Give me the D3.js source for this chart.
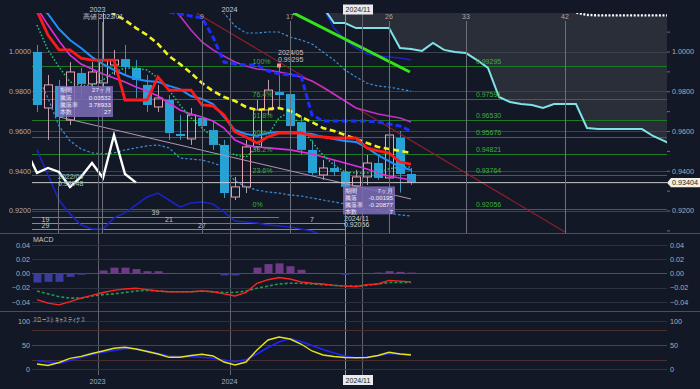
<!DOCTYPE html>
<html>
<head>
<meta charset="utf-8">
<script src="https://cdn.jsdelivr.net/npm/d3@7"></script>
<style>
  html, body { margin: 0; padding: 0; background: #131826; }
  svg { display: block; }
  text { font-family: "Liberation Sans", Arial, sans-serif; }
</style>
</head>
<body>
<div id="chart"></div>
<script>
// ---- monthly candles 2022/07 .. 2025/05 (index 0 .. 34) ----
var candleOpen  = [0.9998, 0.9716, 0.9827, 0.9655, 0.9892, 0.9837, 0.9842, 0.9932, 0.9962, 0.9917,
                   0.9832, 0.9721, 0.9756, 0.9585, 0.9560, 0.9666, 0.9605, 0.9530, 0.9268, 0.9319,
                   0.9520, 0.9706, 0.9796, 0.9786, 0.9645, 0.9505, 0.9379, 0.9414, 0.9394, 0.9324,
                   0.9369, 0.9439, 0.9364, 0.9565, 0.9384];
var candleHigh  = [1.0033, 0.9882, 0.9857, 0.9947, 0.9917, 0.9947, 1.0250, 1.0008, 1.0033, 0.9957,
                   0.9882, 0.9832, 0.9781, 0.9681, 0.9716, 0.9716, 0.9645, 0.9555, 0.9369, 0.9555,
                   0.9756, 0.9857, 0.99295, 0.9857, 0.9676, 0.9555, 0.9455, 0.9455, 0.9434, 0.9404,
                   0.9480, 0.9480, 0.9611, 0.9600, 0.9414];
var candleLow   = [0.9696, 0.9555, 0.9325, 0.9630, 0.9766, 0.9806, 0.9817, 0.9882, 0.9882, 0.9766,
                   0.9696, 0.9696, 0.9555, 0.9555, 0.9530, 0.9605, 0.9505, 0.9263, 0.9253, 0.9288,
                   0.9505, 0.9681, 0.9716, 0.9605, 0.9480, 0.9379, 0.9354, 0.9374, 0.92056, 0.9294,
                   0.9329, 0.9354, 0.9339, 0.9290, 0.9329];
var candleClose = [0.9731, 0.9832, 0.9671, 0.9897, 0.9837, 0.9897, 0.9957, 0.9957, 0.9922, 0.9857,
                   0.9731, 0.9766, 0.9590, 0.9575, 0.9681, 0.9625, 0.9530, 0.9288, 0.9319, 0.9520,
                   0.9706, 0.9806, 0.9781, 0.9625, 0.9505, 0.9389, 0.9414, 0.9394, 0.9319, 0.9369,
                   0.9439, 0.9364, 0.9580, 0.9384, 0.93404];
var lastPrice = 0.93404;

// ---- overlay lines (null = not shown) ----
var tenkan = [1.0204, 1.0083, 1.0008, 1.0008, 0.9967, 0.9957, 0.9957, 0.9957, 0.9756, 0.9756,
              0.9756, 0.9872, 0.9806, 0.9806, 0.9806, 0.9731, 0.9726, 0.9681, 0.9595, 0.9570,
              0.9540, 0.9570, 0.9590, 0.9590, 0.9590, 0.9575, 0.9570, 0.9565, 0.9565, 0.9565,
              0.9515, 0.9500, 0.9490, 0.9444, 0.9434];
var maFast = [1.0234, 1.0189, 1.0113, 1.0058, 1.0018, 0.9972, 0.9937, 0.9907, 0.9882, 0.9862,
              0.9852, 0.9847, 0.9827, 0.9811, 0.9776, 0.9761, 0.9736, 0.9671, 0.9605, 0.9585,
              0.9575, 0.9590, 0.9595, 0.9595, 0.9590, 0.9585, 0.9570, 0.9560, 0.9550, 0.9545,
              0.9515, 0.9479, 0.9449, 0.9419, 0.9404];
var maMid = [1.0219, 1.0133, 1.0053, 0.9982, 0.9937, 0.9912, 0.9887, 0.9867, 0.9847, 0.9821,
             0.9801, 0.9776, 0.9741, 0.9706, 0.9686, 0.9671, 0.9650, 0.9615, 0.9555, 0.9530,
             0.9520, 0.9515, 0.9510, 0.9505, 0.9495, 0.9484, 0.9469, 0.9454, 0.9439, 0.9424,
             0.9409, 0.9389, 0.9374, 0.9364, 0.9354];
var maLong = [null, null, null, null, null, null, null, null, null, null, null, null,
              1.0244, 1.0179, 1.0108, 1.0048, 1.0008, 0.9977, 0.9947, 0.9927, 0.9912, 0.9907,
              0.9897, 0.9887, 0.9872, 0.9852, 0.9821, 0.9786, 0.9751, 0.9716, 0.9701, 0.9686,
              0.9676, 0.9666, 0.9645];
var kijun = [null, null, null, null, null, null, null, null, null, null, null, null,
             1.0199, 1.0189, 1.0179, 1.0169, 1.0073, 0.9947, 0.9937, 0.9932, 0.9932, 0.9902,
             0.9887, 0.9882, 0.9877, 0.9681, 0.9650, 0.9650, 0.9650, 0.9650, 0.9650, 0.9645,
             0.9635, 0.9625, 0.9600];
var maYellow = [null, null, null, null, null, null,
                1.0234, 1.0189, 1.0158, 1.0118, 1.0083, 1.0038, 0.9977, 0.9937, 0.9892, 0.9841,
                0.9801, 0.9771, 0.9751, 0.9721, 0.9706, 0.9711, 0.9716, 0.9701, 0.9671, 0.9645,
                0.9615, 0.9600, 0.9580, 0.9560, 0.9540, 0.9520, 0.9510, 0.9500, 0.9490];
var emaDotted = [1.0133, 1.0008, 0.9922, 0.9847, 0.9827, 0.9832, 0.9857, 0.9897, 0.9917, 0.9917,
                 0.9907, 0.9867, 0.9806, 0.9731, 0.9666, 0.9615, 0.9570, 0.9505, 0.9479, 0.9469,
                 0.9520, 0.9580, 0.9666, 0.9696, 0.9620, 0.9545, 0.9479, 0.9429, 0.9394, 0.9389,
                 0.9389, 0.9394, 0.9409, 0.9419, 0.9419];
var bandUpper = [null, null, null, null, null, null, null, null, null, null, null, null, null, null, null, null,
                 1.0244, 1.0194, 1.0128, 1.0093, 1.0093, 1.0098, 1.0098, 1.0073, 1.0058, 1.0038,
                 0.9997, 0.9957, 0.9907, 0.9872, 0.9841, 0.9826, 0.9821, 0.9811, 0.9801];
var bandLower = [0.9882, 0.9766, 0.9625, 0.9550, 0.9510, 0.9490, 0.9485, 0.9490, 0.9505, 0.9515,
                 0.9525, 0.9530, 0.9515, 0.9464, 0.9459, 0.9454, 0.9439, 0.9419, 0.9349, 0.9319,
                 0.9303, 0.9293, 0.9288, 0.9278, 0.9273, 0.9263, 0.9253, 0.9243, 0.9233, 0.9218,
                 0.9208, 0.9198, 0.9188, 0.9178, 0.9173];
var band3Lower = [0.9505, 0.9379, 0.9253, 0.9183, 0.9127, 0.9107, 0.9107, 0.9163, 0.9188, 0.9228,
                  0.9268, 0.9288, 0.9253, 0.9218, 0.9238, 0.9243, 0.9233, 0.9193, 0.9147, 0.9142,
                  0.9137, 0.9127, 0.9122, 0.9117, 0.9107, 0.9097, 0.9072];
var band3Upper = [null, null, null, null, null, null, null, null, null, null, null, null, null,
                  null, null, null, null, null, null, null, null, null, null, null, null, null,
                  1.0219, 1.0118, 1.0058, 1.0018, 0.9987, 0.9977, 0.9972, 0.9967, 0.9957];

// leading spans, index 26 .. 58 (future part drawn ahead of the last candle)
var spanBIndex = 26;
var spanB = [1.0224, 1.0143, 1.0143, 1.0118, 1.0118, 1.0118, 1.0118, 1.0018, 1.0013, 1.0003,
             1.0043, 1.0008, 0.9997, 0.9992, 0.9957, 0.9917, 0.9771, 0.9746, 0.9736, 0.9731,
             0.9716, 0.9736, 0.9736, 0.9736, 0.9615, 0.9610, 0.9610, 0.9610, 0.9610, 0.9610,
             0.9575, 0.9550, 0.9525];
var spanAIndex = 48;
var spanA = [1.0240, 1.0196, 1.0184, 1.0182, 1.0182, 1.0182, 1.0182, 1.0182, 1.0182, 1.0182, 1.0182];

// trend lines: [index, price] end points
var trendLime = [[23.3, 1.0194], [33.9, 0.9897]];
var trendRed = [[14.5, 1.0194], [48, 0.9092]];
var trendMauve = [[2, 0.9671], [34, 0.9258]];

// fibonacci retracement 2024/05 high -> 2024/11 low
var fibLevels = [0.99295, 0.97591, 0.96530, 0.95676, 0.94821, 0.93764, 0.92056];
var fibNames = ["100%", "76.4%", "61.8%", "50%", "38.2%", "23.6%", "0%"];

// period count spans: row level, from index, to index, label, colour kind
var spanRows = [
    {level: 0.91691, from: -3, to: 22, label: "39", kind: "red"},
    {level: 0.91359, from: -3, to: 2, label: "19", kind: "teal"},
    {level: 0.91359, from: 2, to: 22, label: "21", kind: "red"},
    {level: 0.91359, from: 22, to: 28, label: "7", kind: "teal"},
    {level: 0.91057, from: -3, to: 2, label: "29", kind: "teal"},
    {level: 0.91057, from: 2, to: 28, label: "27", kind: "teal"}
];

// ---- MACD ----
var macdLine = [-0.037, -0.042, -0.0445, -0.040, -0.035, -0.031, -0.027, -0.024, -0.022, -0.021,
                -0.023, -0.025, -0.026, -0.026, -0.026, -0.025, -0.026, -0.029, -0.032, -0.027,
                -0.014, -0.009, -0.006, -0.008, -0.012, -0.014, -0.015, -0.017, -0.018, -0.019,
                -0.016, -0.015, -0.010, -0.011, -0.012];
var macdSignal = [-0.025, -0.029, -0.033, -0.035, -0.035, -0.032, -0.030, -0.029, -0.027, -0.025,
                  -0.024, -0.025, -0.026, -0.026, -0.026, -0.025, -0.026, -0.027, -0.027, -0.025,
                  -0.021, -0.018, -0.015, -0.014, -0.014, -0.015, -0.016, -0.017, -0.018, -0.018,
                  -0.017, -0.015, -0.013, -0.013, -0.013];
var macdHist = [-0.013, -0.012, -0.012, -0.005, -0.002, -0.0005, 0.004, 0.008, 0.008, 0.006,
                0.003, 0.003, 0.0005, 0.0003, 0.0002, -0.0003, 0.0002, -0.003, -0.003, -0.0005,
                0.008, 0.013, 0.014, 0.010, 0.005, 0.0005, 0.0003, 0.0002, -0.002, -0.0005,
                0.0005, 0.001, 0.003, 0.002, 0.001];

// ---- slow stochastics ----
var stochK = [10.9, 7.8, 14, 22.6, 26.7, 32.5, 37.7, 43.4, 45.3, 41.8,
              36.6, 31.5, 24.7, 24.7, 28.4, 30.9, 27.4, 15, 8.8, 15,
              39.7, 60.3, 66.5, 62.3, 52, 37.7, 29.4, 26.3, 24.3, 23.9,
              24.3, 28.4, 35, 31.5, 29.4];
var stochD = [18, 15, 12.3, 18, 24.3, 30.5, 35, 39, 42.2, 42.4,
              37.7, 32.5, 27.4, 26, 26, 24.7, 22.6, 19.1, 15.6, 20.2,
              31.5, 44.9, 56.2, 63.4, 57.2, 49, 40.7, 33.5, 27.4, 23.9,
              25.3, 28, 32.5, 31.5, 30.9];

// ---- ticks / labels ----
var priceTicks = [1.00, 0.98, 0.96, 0.94, 0.92];
var priceMinor = [1.01, 0.99, 0.97, 0.95, 0.93, 0.91];
var macdTicks = [0.04, 0.02, 0.00, -0.02, -0.04];
var stochTicks = [100, 50, 0];
var stochBands = [80, 50, 20];
var yearLines = [5.5, 17.5, 29.5];
var yearLabels = ["2023", "2024", ""];
var countIndex = [15, 23, 32, 39, 48];
var countLabels = ["9", "17", "26", "33", "42"];
var cursorIndex = 28;
var cursorLabel = "2024/11";
var box1Rows = [["期間", "27ヶ月"], ["騰落", "0.03532"], ["騰落率", "3.78933"], ["本数", "27"]];
var box2Rows = [["期間", "7ヶ月"], ["騰落", "-0.00195"], ["騰落率", "-0.20877"], ["本数", "7"]];

// ---------------------------------------------------------------
var W = 700, H = 389;
var plotLeft = 32, plotRight = 667;
var mainTop = 13, mainBottom = 233;
var macdTop = 234, macdBottom = 311;
var stochTop = 312, stochBottom = 375;
var axisColor = "#a9adb6";

var svg = d3.select("#chart").append("svg")
    .attr("width", W)
    .attr("height", H);

svg.append("rect").attr("width", W).attr("height", H).attr("fill", "#131826");

var defs = svg.append("defs");
function addClip(id, y0, y1) {
    defs.append("clipPath").attr("id", id).append("rect")
        .attr("x", plotLeft).attr("y", y0)
        .attr("width", plotRight - plotLeft).attr("height", y1 - y0);
}
addClip("clip-main", mainTop, mainBottom);
addClip("clip-macd", macdTop, macdBottom);
addClip("clip-stoch", stochTop, stochBottom);

// scales
var x = d3.scaleLinear().domain([0, 57]).range([37, 664]);
var y = d3.scaleLinear().domain([0.90870, 1.01937]).range([mainBottom, mainTop]);
var yMacd = d3.scaleLinear().domain([-0.0531, 0.0561]).range([macdBottom, 233.5]);
var yStoch = d3.scaleLinear().domain([0, 100]).range([369.3, 320.7]);

function pts(arr, start) {
    start = start || 0;
    return arr.map(function (v, i) { return {i: i + start, v: v}; });
}
function lineGen(scale) {
    return d3.line()
        .defined(function (d) { return d.v != null; })
        .x(function (d) { return x(d.i); })
        .y(function (d) { return scale(d.v); });
}
var line = lineGen(y);

// panel separators
[233.5, 311.5].forEach(function (yy) {
    svg.append("line").attr("x1", 0).attr("x2", W).attr("y1", yy).attr("y2", yy)
        .attr("stroke", "#4b505b").attr("stroke-width", 1);
});

// ===================== main panel =====================
var gMain = svg.append("g").attr("clip-path", "url(#clip-main)");

// cloud ahead of price
var cloudData = pts(spanB, spanBIndex).map(function (d) {
    var a = d.i - spanAIndex;
    return {i: d.i, b: d.v, a: (a >= 0 && a < spanA.length) ? spanA[a] : null};
});
gMain.append("path")
    .datum(cloudData)
    .attr("fill", "#2a2e39")
    .attr("d", d3.area()
        .x(d => x(d.i))
        .y0(d => d.a == null ? 0 : y(d.a))
        .y1(d => y(d.b)));

// horizontal grid
gMain.selectAll(".grid")
    .data(priceTicks)
    .join("line")
    .attr("x1", plotLeft).attr("x2", plotRight)
    .attr("y1", d => Math.round(y(d)) + 0.5).attr("y2", d => Math.round(y(d)) + 0.5)
    .attr("stroke", "#3d424d");

// fibonacci levels
gMain.selectAll(".fib")
    .data(fibLevels)
    .join("line")
    .attr("x1", plotLeft).attr("x2", plotRight)
    .attr("y1", d => Math.round(y(d)) + 0.5).attr("y2", d => Math.round(y(d)) + 0.5)
    .attr("stroke", "#1f7a26");

// period count rows
gMain.selectAll(".spanrow")
    .data(spanRows)
    .join("line")
    .attr("x1", d => x(d.from)).attr("x2", d => x(d.to))
    .attr("y1", d => Math.round(y(d.level)) + 0.5).attr("y2", d => Math.round(y(d.level)) + 0.5)
    .attr("stroke", d => d.kind === "red" ? "#b85a58" : "#5e9ea8")
    .attr("stroke-width", 1.2);

// vertical lines: years, time counts, base high, cursor
var vGrid = svg.append("g");
yearLines.forEach(function (i) {
    vGrid.append("line").attr("x1", Math.round(x(i)) + 0.5).attr("x2", Math.round(x(i)) + 0.5)
        .attr("y1", mainTop).attr("y2", stochBottom).attr("stroke", "#5d626d");
});
countIndex.forEach(function (i) {
    vGrid.append("line").attr("x1", Math.round(x(i)) + 0.5).attr("x2", Math.round(x(i)) + 0.5)
        .attr("y1", 21).attr("y2", mainBottom).attr("stroke", "#6b707b");
});
vGrid.append("line").attr("x1", Math.round(x(6)) - 0.5).attr("x2", Math.round(x(6)) - 0.5)
    .attr("y1", 22).attr("y2", mainBottom).attr("stroke", "#6b707b");
vGrid.append("line").attr("x1", Math.round(x(2)) - 0.5).attr("x2", Math.round(x(2)) - 0.5)
    .attr("y1", y(candleLow[2])).attr("y2", mainBottom).attr("stroke", "#6b707b");
vGrid.append("line").attr("x1", Math.round(x(cursorIndex)) + 0.5).attr("x2", Math.round(x(cursorIndex)) + 0.5)
    .attr("y1", mainTop).attr("y2", stochBottom).attr("stroke", "#8c909a");

// candles
var candles = candleOpen.map(function (o, i) {
    return {i: i, o: o, h: candleHigh[i], l: candleLow[i], c: candleClose[i]};
});
var upColor = "#e3a3b0", downColor = "#27a2d6";
gMain.selectAll(".wick")
    .data(candles)
    .join("path")
    .attr("stroke", d => d.c >= d.o ? "#b9a0a8" : "#3d93b8")
    .attr("stroke-width", 1)
    .attr("d", function (d) {
        var cx = Math.round(x(d.i)) + 0.5;
        return "M" + cx + "," + y(d.h) + "V" + y(Math.max(d.o, d.c)) +
            "M" + cx + "," + y(Math.min(d.o, d.c)) + "V" + y(d.l);
    });
gMain.selectAll(".body")
    .data(candles)
    .join("rect")
    .attr("x", d => Math.round(x(d.i)) - 4 + (d.c >= d.o ? 0.5 : 0))
    .attr("width", d => d.c >= d.o ? 8 : 9)
    .attr("y", d => y(Math.max(d.o, d.c)))
    .attr("height", d => Math.max(1, Math.abs(y(d.o) - y(d.c))))
    .attr("fill", d => d.c >= d.o ? "none" : downColor)
    .attr("stroke", d => d.c >= d.o ? upColor : "none");

// trend lines
function drawTrend(ends, color, width) {
    gMain.append("line")
        .attr("x1", x(ends[0][0])).attr("y1", y(ends[0][1]))
        .attr("x2", x(ends[1][0])).attr("y2", y(ends[1][1]))
        .attr("stroke", color).attr("stroke-width", width);
}
drawTrend(trendMauve, "#b493b4", 1);
drawTrend(trendRed, "#8e1f2a", 1.2);

// indicator lines
function drawLine(data, color, width, dash) {
    gMain.append("path")
        .datum(data)
        .attr("fill", "none")
        .attr("stroke", color)
        .attr("stroke-width", width)
        .attr("stroke-dasharray", dash || null)
        .attr("d", line);
}
drawLine(pts(band3Lower), "#1b22c8", 1.6);
drawLine(pts(band3Upper), "#1b22c8", 1.6);
drawLine(pts(bandLower), "#3b8fe0", 1.2, "2.5,2");
drawLine(pts(bandUpper), "#3b8fe0", 1.2, "2.5,2");
drawLine(pts(maLong), "#c32fc8", 1.6);
drawLine(pts(maMid), "#e02ce0", 1.6);
drawLine(pts(emaDotted), "#2fc47a", 1.5, "1.5,2");
drawLine(pts(maYellow), "#f2f21e", 2.6, "6,3.5");
drawLine(pts(kijun), "#1f2cff", 3, "6,3");
drawLine(pts(maFast), "#1f8fff", 2);
drawLine(pts(tenkan), "#ff1a1a", 2.8);
drawTrend(trendLime, "#36e21c", 3);

// lagging span = closes shifted back 25 bars
var lagging = candleClose.slice(24).map(function (c, k) { return {i: k - 1, v: c}; });
drawLine(lagging, "#ffffff", 2.4);

// leading spans
drawLine(pts(spanB, spanBIndex), "#7fe2e6", 2);
drawLine(pts(spanA, spanAIndex), "#ffffff", 2.4, "2,1.6");

// current price line
gMain.append("line")
    .attr("x1", plotLeft).attr("x2", plotRight)
    .attr("y1", y(lastPrice)).attr("y2", y(lastPrice))
    .attr("stroke", "#c9c9cc").attr("stroke-width", 1);

// fib labels
gMain.selectAll(".fibpct")
    .data(fibLevels)
    .join("text")
    .attr("x", x(19.6)).attr("y", d => y(d) - 2)
    .attr("font-size", 7).attr("fill", "#3fae3f")
    .text((d, i) => fibNames[i]);
gMain.selectAll(".fibval")
    .data(fibLevels)
    .join("text")
    .attr("x", x(39.9)).attr("y", d => y(d) - 2)
    .attr("font-size", 7).attr("fill", "#3fae3f")
    .text(d => d3.format(".5f")(d));

// count row labels, centred on the visible part
gMain.selectAll(".spanlabel")
    .data(spanRows)
    .join("text")
    .attr("x", d => (Math.max(x(d.from), plotLeft) + x(d.to)) / 2)
    .attr("y", d => y(d.level) - 1.5)
    .attr("text-anchor", "middle")
    .attr("font-size", 7).attr("fill", "#c4c6cc")
    .text(d => d.label);

// high / low notes
gMain.append("rect")
    .attr("x", x(22) - 2).attr("y", y(candleHigh[22]) - 2)
    .attr("width", 4).attr("height", 4).attr("fill", "#ff8c8c");
function note(i, price, t1, t2, dy1, dy2, color) {
    gMain.append("text").attr("x", x(i) - 1).attr("y", y(price) + dy1)
        .attr("font-size", 7).attr("fill", color).text(t1);
    gMain.append("text").attr("x", x(i) - 1).attr("y", y(price) + dy2)
        .attr("font-size", 7).attr("fill", color).text(t2);
}
note(22, candleHigh[22], "2024/05", "0.99295", -11, -4, "#dcbcbc");
note(28, candleLow[28], "2024/11", "0.92056", 11.5, 18, "#d4d6da");
note(2, candleLow[2], "2022/09", "0.93248", -7, 0, "#9fc9bd");

// info boxes
function infoBox(x0, y0, w, h, rows) {
    var g = svg.append("g");
    g.append("rect").attr("x", x0).attr("y", y0).attr("width", w).attr("height", h)
        .attr("fill", "#7a6bb6").attr("fill-opacity", 0.88);
    rows.forEach(function (r, k) {
        g.append("text").attr("x", x0 + 2).attr("y", y0 + 6.5 + k * 7.1)
            .attr("font-family", "Noto Sans CJK JP").attr("font-size", 6.2)
            .attr("fill", "#f0eef8").text(r[0]);
        g.append("text").attr("x", x0 + w - 2).attr("y", y0 + 6.5 + k * 7.1)
            .attr("text-anchor", "end").attr("font-family", "Noto Sans CJK JP").attr("font-size", 6.2)
            .attr("fill", "#f0eef8").text(r[1]);
    });
}
infoBox(x(2) - 1, y(0.98265), 55, 31, box1Rows);
infoBox(x(28) - 2, y(0.93215), 52, 28, box2Rows);

// top labels
yearLines.forEach(function (i, k) {
    svg.append("text").attr("x", x(i)).attr("y", 12).attr("text-anchor", "middle")
        .attr("font-size", 7.2).attr("fill", "#c6cad2").text(yearLabels[k]);
});
countIndex.forEach(function (i, k) {
    svg.append("text").attr("x", x(i)).attr("y", 19).attr("text-anchor", "middle")
        .attr("font-size", 7).attr("fill", "#a4a8b0").text(countLabels[k]);
});
svg.append("text").attr("x", x(6)).attr("y", 19).attr("text-anchor", "middle")
    .attr("font-family", "Noto Sans CJK JP").attr("font-size", 6.8).attr("fill", "#c6cad2")
    .text("高値 2023/01");

// cursor date tags (top and bottom)
function dateTag(yy) {
    svg.append("rect").attr("x", x(cursorIndex) - 2).attr("y", yy).attr("width", 30).attr("height", 10)
        .attr("fill", "#e9eaec");
    svg.append("text").attr("x", x(cursorIndex) + 13).attr("y", yy + 7.6).attr("text-anchor", "middle")
        .attr("font-size", 7).attr("fill", "#222").text(cursorLabel);
}
dateTag(4.5);

// price axes
svg.append("g")
    .attr("transform", `translate(${plotLeft - 1},0)`)
    .call(d3.axisLeft(y).tickValues(priceTicks).tickSize(0).tickPadding(0).tickFormat(d3.format(".4f")))
    .call(g => g.select(".domain").remove())
    .selectAll("text").attr("fill", axisColor).attr("font-size", 7.2);
svg.append("g")
    .attr("transform", `translate(${plotRight},0)`)
    .call(d3.axisRight(y).tickValues(priceTicks).tickSize(3).tickPadding(2).tickFormat(d3.format(".4f")))
    .call(g => g.select(".domain").remove())
    .call(g => g.selectAll("line").attr("stroke", "#6a6f7a"))
    .selectAll("text").attr("fill", axisColor).attr("font-size", 7.2);
svg.append("g")
    .attr("transform", `translate(${plotRight},0)`)
    .call(d3.axisRight(y).tickValues(priceMinor).tickSize(3).tickFormat(""))
    .call(g => g.select(".domain").remove())
    .selectAll("line").attr("stroke", "#6a6f7a");

// last price tag
svg.append("path")
    .attr("d", `M${plotRight},${y(lastPrice)} L${plotRight + 4},${y(lastPrice) - 4.7} H700 V${y(lastPrice) + 4.7} H${plotRight + 4} Z`)
    .attr("fill", "#f1f0e2");
svg.append("text").attr("x", plotRight + 5).attr("y", y(lastPrice) + 2.6)
    .attr("font-size", 7.2).attr("fill", "#222").text(d3.format(".5f")(lastPrice));

// ===================== MACD =====================
var gMacd = svg.append("g").attr("clip-path", "url(#clip-macd)");
gMacd.selectAll(".mgrid")
    .data(macdTicks)
    .join("line")
    .attr("x1", plotLeft).attr("x2", plotRight)
    .attr("y1", d => Math.round(yMacd(d)) + 0.5).attr("y2", d => Math.round(yMacd(d)) + 0.5)
    .attr("stroke", d => d === 0 ? "#6b4a3c" : "#2b3140");
gMacd.selectAll(".hist")
    .data(pts(macdHist))
    .join("rect")
    .attr("x", d => Math.round(x(d.i)) - 3.5)
    .attr("width", 8)
    .attr("y", d => yMacd(Math.max(0, d.v)))
    .attr("height", d => Math.abs(yMacd(d.v) - yMacd(0)))
    .attr("fill", d => d.v >= 0 ? "#6e3a86" : "#3c3b9e");
gMacd.append("path").datum(pts(macdSignal))
    .attr("fill", "none").attr("stroke", "#1f9a4c").attr("stroke-width", 1.6)
    .attr("stroke-dasharray", "3,2").attr("d", lineGen(yMacd));
gMacd.append("path").datum(pts(macdLine))
    .attr("fill", "none").attr("stroke", "#ff2424").attr("stroke-width", 1.4)
    .attr("d", lineGen(yMacd));

svg.append("text").attr("x", 33).attr("y", 242).attr("font-size", 7).attr("fill", "#c4c6cc").text("MACD");
svg.append("g").attr("transform", `translate(30,0)`)
    .call(d3.axisLeft(yMacd).tickValues(macdTicks).tickSize(0).tickPadding(0).tickFormat(d3.format(".2f")))
    .call(g => g.select(".domain").remove())
    .selectAll("text").attr("fill", axisColor).attr("font-size", 7.2);
svg.append("g").attr("transform", `translate(${plotRight},0)`)
    .call(d3.axisRight(yMacd).tickValues(macdTicks).tickSize(0).tickPadding(3).tickFormat(d3.format(".2f")))
    .call(g => g.select(".domain").remove())
    .selectAll("text").attr("fill", axisColor).attr("font-size", 7.2);

// ===================== slow stochastics =====================
var gSto = svg.append("g").attr("clip-path", "url(#clip-stoch)");
gSto.selectAll(".sgrid")
    .data([100, 0])
    .join("line")
    .attr("x1", plotLeft).attr("x2", plotRight)
    .attr("y1", d => Math.round(yStoch(d)) + 0.5).attr("y2", d => Math.round(yStoch(d)) + 0.5)
    .attr("stroke", "#2b3140");
gSto.selectAll(".sband")
    .data(stochBands)
    .join("line")
    .attr("x1", plotLeft).attr("x2", plotRight)
    .attr("y1", d => Math.round(yStoch(d)) + 0.5).attr("y2", d => Math.round(yStoch(d)) + 0.5)
    .attr("stroke", d => d === 50 ? "#5a3f30" : "#4a2f2e");
gSto.append("path").datum(pts(stochD))
    .attr("fill", "none").attr("stroke", "#1f24ff").attr("stroke-width", 1.6)
    .attr("d", lineGen(yStoch));
gSto.append("path").datum(pts(stochK))
    .attr("fill", "none").attr("stroke", "#e4e41c").attr("stroke-width", 1.4)
    .attr("d", lineGen(yStoch));

svg.append("text").attr("x", 33).attr("y", 322).attr("font-family", "Noto Sans CJK JP")
    .attr("font-size", 7).attr("fill", "#c4c6cc")
    .attr("textLength", 52).attr("lengthAdjust", "spacingAndGlyphs")
    .text("スローストキャスティクス");
svg.append("g").attr("transform", `translate(30,0)`)
    .call(d3.axisLeft(yStoch).tickValues(stochTicks).tickSize(0).tickPadding(0))
    .call(g => g.select(".domain").remove())
    .selectAll("text").attr("fill", axisColor).attr("font-size", 7.2);
svg.append("g").attr("transform", `translate(${plotRight},0)`)
    .call(d3.axisRight(yStoch).tickValues(stochTicks).tickSize(0).tickPadding(3))
    .call(g => g.select(".domain").remove())
    .selectAll("text").attr("fill", axisColor).attr("font-size", 7.2);

// bottom year labels
yearLines.forEach(function (i, k) {
    svg.append("text").attr("x", x(i)).attr("y", 384).attr("text-anchor", "middle")
        .attr("font-size", 7.2).attr("fill", axisColor).text(yearLabels[k]);
});
dateTag(375);
</script>
</body>
</html>
